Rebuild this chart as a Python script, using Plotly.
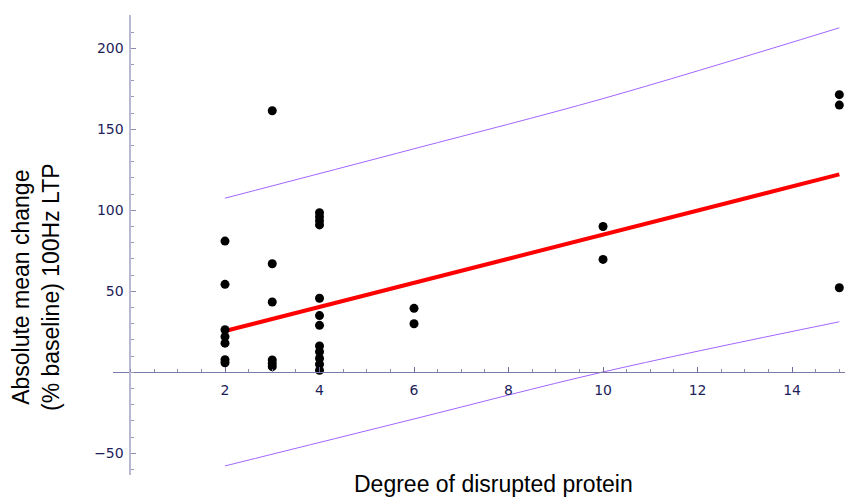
import plotly.graph_objects as go

# Observed data points (degree of disrupted protein, absolute mean change)
x_pts = [2, 2, 2, 2, 2, 2, 2,
         3, 3, 3, 3, 3, 3,
         4, 4, 4, 4, 4, 4, 4, 4, 4, 4, 4, 4,
         6, 6,
         10, 10,
         15, 15, 15]
y_pts = [81, 54.3, 26.3, 22, 18, 7.8, 5.9,
         161.5, 67, 43.4, 7.6, 5.5, 3.5,
         98.5, 96, 93.5, 91, 45.7, 35, 29, 16.3, 12.7, 8.6, 5, 1.2,
         39.5, 30,
         90, 69.7,
         171.4, 165, 52.2]

# Fitted regression line (end points)
fit_x = [2, 15]
fit_y = [25.5, 122.2]

# Prediction bands
band_x = [2, 6, 10, 15]
band_upper = [107.5, 138, 169, 212.7]
band_lower = [-57.8, -28.8, 0.2, 31.2]

x_ticks = [2, 4, 6, 8, 10, 12, 14]
y_ticks = [-50, 50, 100, 150, 200]

x_range = [-0.370, 15.12]
y_range = [-63.4, 220.6]

tick_font = dict(family="DejaVu Sans", size=14, color="#1e1e5a")
band_color = "#a366ff"

fig = go.Figure()
fig.add_trace(go.Scatter(x=band_x, y=band_upper, mode="lines",
                         line=dict(color=band_color, width=1, shape="spline"),
                         showlegend=False, hoverinfo="skip"))
fig.add_trace(go.Scatter(x=band_x, y=band_lower, mode="lines",
                         line=dict(color=band_color, width=1, shape="spline"),
                         showlegend=False, hoverinfo="skip"))
fig.add_trace(go.Scatter(x=fit_x, y=fit_y, mode="lines",
                         line=dict(color="#ff0000", width=4),
                         showlegend=False))
fig.add_trace(go.Scatter(x=x_pts, y=y_pts, mode="markers",
                         marker=dict(color="black", size=9),
                         cliponaxis=False, showlegend=False))

x_zero_pos = (0 - y_range[0]) / (y_range[1] - y_range[0])
y_zero_pos = (0 - x_range[0]) / (x_range[1] - x_range[0])

fig.update_layout(
    width=845, height=497,
    margin=dict(l=113, r=0, t=15, b=22),
    plot_bgcolor="white", paper_bgcolor="white",
    xaxis=dict(range=x_range, anchor="free", position=x_zero_pos,
               showgrid=False, zeroline=False,
               showline=True, linecolor="#7a7aaa", linewidth=1,
               ticks="inside", ticklen=5, tickwidth=1, tickcolor="#6a6a9a",
               tickmode="array", tickvals=x_ticks,
               ticktext=[str(v) for v in x_ticks],
               tickfont=tick_font, ticklabelstandoff=5,
               minor=dict(dtick=0.5, tick0=0, ticks="inside", ticklen=3,
                          tickcolor="#8a8ab0", showgrid=False)),
    yaxis=dict(range=y_range, anchor="free", position=y_zero_pos,
               showgrid=False, zeroline=False,
               showline=True, linecolor="#b8b8d0", linewidth=2,
               ticks="inside", ticklen=5, tickwidth=1, tickcolor="#8a8ab0",
               tickmode="array", tickvals=y_ticks,
               ticktext=[("\u221250" if v == -50 else str(v)) for v in y_ticks],
               tickfont=tick_font, ticklabelstandoff=3,
               minor=dict(dtick=10, tick0=0, ticks="inside", ticklen=3,
                          tickcolor="#9a9ab8", showgrid=False)),
    annotations=[
        dict(text="Degree of disrupted protein", xref="paper", yref="paper",
             x=(493 - 113) / 732, y=(475 - 484) / 460,
             xanchor="center", yanchor="middle", showarrow=False,
             font=dict(family="Liberation Sans", size=23, color="black")),
        dict(text="Absolute mean change<br>(% baseline) 100Hz LTP",
             xref="paper", yref="paper",
             x=(36 - 113) / 732, y=(475 - 287) / 460,
             xanchor="center", yanchor="middle", showarrow=False,
             textangle=-90,
             font=dict(family="Liberation Sans", size=23, color="black")),
    ],
)

fig.write_html("out.html")
